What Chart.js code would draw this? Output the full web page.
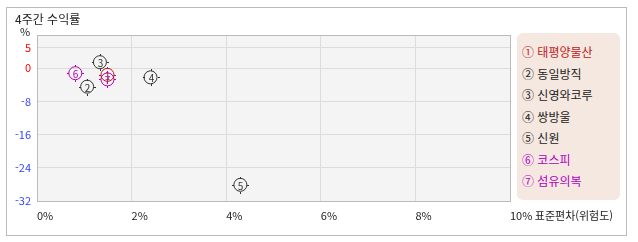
<!DOCTYPE html>
<html lang="ko">
<head>
  <meta charset="UTF-8" />
  <title>4주간 수익률</title>
  <script src="https://cdn.jsdelivr.net/npm/chart.js"></script>
  <style>
    body {
      margin: 0;
      background: #fff;
      font-family: "Noto Sans CJK KR", sans-serif;
    }
    .box {
      position: absolute;
      left: 6px;
      top: 7px;
      width: 619px;
      height: 227px;
      border: 1px solid #bbb;
    }
    .title {
      position: absolute;
      left: 15px;
      top: 10px;
      font-size: 12px;
      color: #222;
    }
    .wrap {
      position: absolute;
      left: 0;
      top: 0;
      width: 638px;
      height: 242px;
    }
    .legend {
      position: absolute;
      left: 517px;
      top: 33px;
      width: 103px;
      height: 167px;
      background: #f5e8e1;
      border-radius: 6px;
      font-size: 12px;
    }
    .legend div {
      position: absolute;
      left: 5px;
      white-space: nowrap;
    }
  </style>
</head>
<body>
  <div class="box"></div>
  <div class="wrap"><canvas id="chart" width="638" height="242"></canvas></div>
  <div class="title">4주간 수익률</div>
  <div class="legend" id="legend"></div>

  <script>
    // 종목 데이터 (x: 표준편차 %, y: 4주 수익률 %)
    const names = ['태평양물산', '동일방직', '신영와코루', '쌍방울', '신원', '코스피', '섬유의복'];
    const marks = ['①', '②', '③', '④', '⑤', '⑥', '⑦'];
    const stdDev = [1.49, 1.06, 1.33, 2.40, 4.30, 0.81, 1.49];
    const returns = [-1.6, -4.45, 1.45, -2.2, -28.1, -1.2, -2.7];
    const colors = ['#b01e1e', '#333333', '#333333', '#333333', '#333333', '#b400b4', '#b400b4'];
    const legendColors = ['#c0201c', '#222222', '#222222', '#222222', '#222222', '#b000c0', '#b000c0'];
    const xTicks = [0, 2, 4, 6, 8, 10];
    const yTicks = [5, 0, -8, -16, -24, -32];

    const fontFamily = '"Noto Sans CJK KR", sans-serif';

    // 범례
    const legend = document.getElementById('legend');
    names.forEach((n, i) => {
      const d = document.createElement('div');
      d.style.top = (10 + i * 21.5) + 'px';
      d.style.color = legendColors[i];
      d.textContent = marks[i] + ' ' + n;
      legend.appendChild(d);
    });

    const datasets = names.map((n, i) => ({
      label: n,
      data: [{ x: stdDev[i], y: returns[i] }],
      pointRadius: 6.5,
      pointHoverRadius: 6.5,
      borderWidth: 1,
      borderColor: colors[i],
      backgroundColor: 'rgba(0,0,0,0)'
    }));

    const plotDeco = {
      id: 'plotDeco',
      beforeDraw(chart) {
        const { ctx, chartArea: a } = chart;
        ctx.save();
        ctx.fillStyle = '#f4f4f4';
        ctx.fillRect(a.left, a.top, a.right - a.left, a.bottom - a.top);
        ctx.restore();
      },
      beforeDatasetsDraw(chart) {
        const { ctx, chartArea: a } = chart;
        ctx.save();
        ctx.strokeStyle = '#bbb';
        ctx.lineWidth = 1;
        ctx.strokeRect(a.left + 0.5, a.top + 0.5, a.right - a.left, a.bottom - a.top);
        ctx.fillStyle = '#222';
        ctx.font = '11px ' + fontFamily;
        ctx.textAlign = 'center';
        ctx.textBaseline = 'bottom';
        ctx.fillText('%', 25, a.top + 2);
        ctx.restore();
      },
      afterDatasetsDraw(chart) {
        const { ctx } = chart;
        ctx.save();
        chart.data.datasets.forEach((ds, i) => {
          const pt = chart.getDatasetMeta(i).data[0];
          const x = Math.round(pt.x) + 0.5, y = Math.round(pt.y) + 0.5;
          const r = 6.5;
          ctx.strokeStyle = colors[i];
          ctx.lineWidth = 1;
          ctx.beginPath();
          ctx.moveTo(x, y - r); ctx.lineTo(x, y - r - 2);
          ctx.moveTo(x, y + r); ctx.lineTo(x, y + r + 2);
          ctx.moveTo(x - r, y); ctx.lineTo(x - r - 2, y);
          ctx.moveTo(x + r, y); ctx.lineTo(x + r + 2, y);
          ctx.stroke();
          ctx.fillStyle = colors[i];
          ctx.font = '10px ' + fontFamily;
          ctx.textAlign = 'center';
          ctx.textBaseline = 'middle';
          ctx.fillText(String(i + 1), x, y + 0.5);
        });
        ctx.restore();
      }
    };

    new Chart(document.getElementById('chart'), {
      type: 'scatter',
      data: { datasets },
      options: {
        responsive: false,
        animation: false,
        layout: { padding: { left: 0, top: 35, right: 128, bottom: 0 } },
        plugins: {
          legend: { display: false },
          tooltip: { enabled: false }
        },
        scales: {
          x: {
            min: 0,
            max: 10,
            afterBuildTicks: s => { s.ticks = xTicks.map(v => ({ value: v })); },
            afterFit: s => { s.height = 41; },
            grid: { color: '#dcdcdc', drawTicks: false },
            border: { display: false },
            ticks: {
              align: 'start',
              padding: 8,
              maxRotation: 0,
              minRotation: 0,
              autoSkip: false,
              color: '#222',
              font: { family: fontFamily, size: 11 },
              callback: v => v === 10 ? '10% 표준편차(위험도)' : v + '%'
            }
          },
          y: {
            min: -32,
            max: 8,
            afterBuildTicks: s => { s.ticks = yTicks.map(v => ({ value: v })); },
            afterFit: s => { s.width = 37; },
            grid: { color: '#dcdcdc', drawTicks: false },
            border: { display: false },
            ticks: {
              padding: 6,
              font: { family: fontFamily, size: 11 },
              color: c => c.tick && c.tick.value >= 0 ? '#ff0000' : '#3344ff',
              callback: v => String(v)
            }
          }
        }
      },
      plugins: [plotDeco]
    });
  </script>
</body>
</html>
